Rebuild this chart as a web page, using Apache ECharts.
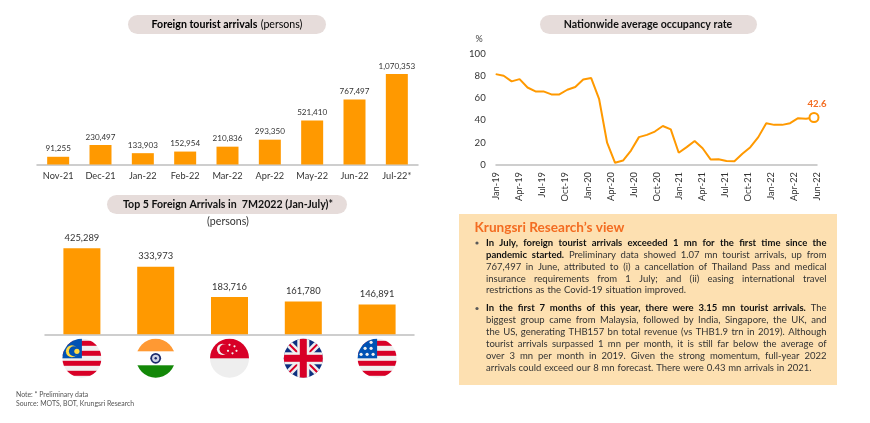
<!DOCTYPE html>
<html><head><meta charset="utf-8">
<script src="https://cdn.jsdelivr.net/npm/echarts@6/dist/echarts.min.js"></script>
<style>html,body{margin:0;padding:0;background:#fff}#c{width:870px;height:423px}</style>
</head><body><div id="c"></div>
<script>
const FONT = 'Lato, "Open Sans", sans-serif';
// Chart 1
const arrivalMonths = ['Nov-21','Dec-21','Jan-22','Feb-22','Mar-22','Apr-22','May-22','Jun-22','Jul-22*'];
const arrivalValues = [91255,230497,133903,152954,210836,293350,521410,767497,1070353];
// Chart 2
const topCountries = ['Malaysia','India','Singapore','UK','US'];
const topValues = [425289,333973,183716,161780,146891];
// Chart 3
const occupancyTickLabels = ['Jan-19','Apr-19','Jul-19','Oct-19','Jan-20','Apr-20','Jul-20','Oct-20','Jan-21','Apr-21','Jul-21','Oct-21','Jan-22','Apr-22','Jun-22'];
const occupancyValues = [81.5,80,75,77,69.5,66,66,63.3,63.3,67.5,70,76.7,78,59,20,2,4,13,25,27,30,35,32,11,16,21.5,15,5,5.2,3.5,3.3,10,16,25,37.5,36,36,37.5,42,41.5,42.6];
// Text panel: [bold part, regular part, justified?]
const viewHeading = 'Krungsri Research\u2019s view';
const viewPara1 = [
 ['In July, foreign tourist arrivals exceeded 1 mn for the first time since the','',true],
 ['pandemic started.','Preliminary data showed 1.07 mn tourist arrivals, up from',true],
 ['','767,497 in June, attributed to (i) a cancellation of Thailand Pass and medical',true],
 ['','insurance requirements from 1 July; and (ii) easing international travel',true],
 ['','restrictions as the Covid-19 situation improved.',false]];
const viewPara2 = [
 ['In the first 7 months of this year, there were 3.15 mn tourist arrivals.','The',true],
 ['','biggest group came from Malaysia, followed by India, Singapore, the UK, and',true],
 ['','the US, generating THB157 bn total revenue (vs THB1.9 trn in 2019). Although',true],
 ['','tourist arrivals surpassed 1 mn per month, it is still far below the average of',true],
 ['','over 3 mn per month in 2019. Given the strong momentum, full-year 2022',true],
 ['','arrivals could exceed our 8 mn forecast. There were 0.43 mn arrivals in 2021.',false]];
const noteLines = ['Note: * Preliminary data','Source: MOTS, BOT, Krungsri Research'];

const svgUri = s => 'data:image/svg+xml;charset=utf-8,' + encodeURIComponent(
 '<svg xmlns="http://www.w3.org/2000/svg" width="40" height="40" viewBox="0 0 40 40"><defs><clipPath id="k"><circle cx="20" cy="20" r="19.5"/></clipPath></defs><g clip-path="url(#k)">' + s + '</g></svg>');
const stripes = () => {let o='<rect width="40" height="40" fill="#f0f0f0"/>';for(let i=0;i<4;i++)o+=`<rect y="${2.5+i*10}" width="40" height="5" fill="#d80027"/>`;return o;};
const star = (x,y,r,c)=>`<circle cx="${x}" cy="${y}" r="${r}" fill="${c}"/>`;
const flags = {
 Malaysia: svgUri(stripes()+'<rect width="20" height="20" fill="#0052b4"/><circle cx="10" cy="13" r="6" fill="#ffda44"/><circle cx="12" cy="13" r="5" fill="#0052b4"/><circle cx="15" cy="13" r="2.6" fill="#ffda44"/>'),
 India: svgUri('<rect width="40" height="40" fill="#fff"/><rect width="40" height="13" fill="#ff9933"/><rect y="27" width="40" height="13" fill="#138808"/><circle cx="20" cy="20" r="5.4" fill="#1a2a6c"/><circle cx="20" cy="20" r="3.6" fill="#cfd3e6"/><circle cx="20" cy="20" r="1.2" fill="#1a2a6c"/>'),
 Singapore: svgUri('<rect width="40" height="40" fill="#eeeeee"/><rect width="40" height="20" fill="#d80027"/><circle cx="13" cy="11" r="5.6" fill="#f0f0f0"/><circle cx="15" cy="11" r="5" fill="#d80027"/>'+[[20,6.5],[25,8],[27,12.5],[18.5,12.5],[23,15]].map(p=>star(p[0],p[1],1.1,'#f0f0f0')).join('')),
 UK: svgUri('<rect width="40" height="40" fill="#0d2f7f"/><path d="M0 0L40 40M40 0L0 40" stroke="#f0f0f0" stroke-width="7"/><path d="M0 0L40 40M40 0L0 40" stroke="#d80027" stroke-width="2"/><rect x="14" width="12" height="40" fill="#f0f0f0"/><rect y="14" width="40" height="12" fill="#f0f0f0"/><rect x="16.5" width="7" height="40" fill="#d80027"/><rect y="16.5" width="40" height="7" fill="#d80027"/>'),
 US: svgUri(stripes()+'<rect width="20" height="20" fill="#0052b4"/>'+[[14,4],[8,10],[14,10],[4,16],[10,16],[16,16]].map(p=>star(p[0],p[1],1.6,'#f0f0f0')).join(''))
};
const flagRich = {}; topCountries.forEach((c,i)=>{flagRich['f'+i]={width:40,height:40,backgroundColor:{image:flags[c]}};});

// Graphic helpers
const pill = (x,y,w,h) => ({type:'rect',shape:{x,y,width:w,height:h,r:h/2},style:{fill:'#E6DCDA'},silent:true,z:1});
const mctx = document.createElement('canvas').getContext('2d');
const fontOf = (b,s)=>`${b?'bold ':''}${s}px ${FONT}`;
const measure=(t,b,s)=>{mctx.font=fontOf(b,s);return mctx.measureText(t).width;};
const txt=(text,x,y,font,fill,align)=>({type:'text',silent:true,z:5,style:{text,x,y,font,fill,align:align||'left',verticalAlign:'middle'}});

const PANEL_L=486,PANEL_R=826.5,BODY=9.5,TITLE=10.6;
function layoutLine(line,y,endX){
 const words=[];
 line[0].split(' ').filter(Boolean).forEach(w=>words.push([w,true]));
 line[1].split(' ').filter(Boolean).forEach(w=>words.push([w,false]));
 const right=endX||PANEL_R;
 const total=words.reduce((a,w)=>a+measure(w[0],w[1],BODY),0);
 const gap=(right-PANEL_L-total)/(words.length-1);
 let x=PANEL_L;const out=[];
 words.forEach(w=>{out.push(txt(w[0],x,y,fontOf(w[1],BODY),w[1]?'#111111':'#333333'));x+=measure(w[0],w[1],BODY)+gap;});
 return out;
}
const graphics=[
 pill(128,15,198,19),pill(107,195,240,19),pill(540,15,217,19),
 {type:'rect',shape:{x:459,y:214,width:378,height:171},style:{fill:'#FDE0B1'},silent:true,z:1},
 {type:'text',silent:true,z:5,style:{text:'{b|Foreign tourist arrivals} {r|(persons)}',x:227,y:25,align:'center',verticalAlign:'middle',rich:{b:{font:fontOf(true,TITLE),color:'#111111'},r:{font:fontOf(false,TITLE),color:'#333333'}}}},
 txt('Top 5 Foreign Arrivals in  7M2022 (Jan-July)*',228,205,fontOf(true,TITLE),'#111111','center'),
 txt('(persons)',228,222,fontOf(false,TITLE),'#333333','center'),
 txt('Nationwide average occupancy rate',648,25,fontOf(true,TITLE),'#111111','center'),
 txt('%',479,39,fontOf(false,9),'#404040','center'),
 txt(noteLines[0],16,394.5,fontOf(false,6.9),'#555555'),
 txt(noteLines[1],16,403.5,fontOf(false,6.9),'#555555'),
 txt(viewHeading,474.5,227.5,fontOf(true,13.6),'#F36C21'),
 {type:'circle',shape:{cx:477,cy:243,r:1.6},style:{fill:'#595959'},silent:true,z:5},
 {type:'circle',shape:{cx:477,cy:308.5,r:1.6},style:{fill:'#595959'},silent:true,z:5}
];
const ys1=[242.7,254.7,266.7,278.5,290.2], ys2=[308,320,332,343.7,355.7,367.7];
viewPara1.forEach((l,i)=>graphics.push(...layoutLine(l,ys1[i],l[2]?PANEL_R:686)));
viewPara2.forEach((l,i)=>graphics.push(...layoutLine(l,ys2[i],l[2]?PANEL_R:811.5)));

const fmt=p=>Number(p.value).toLocaleString('en-US');
const axisLine={show:true,onZero:false,lineStyle:{color:'#BFBFBF',width:1.5}};
const grey='#333333';
const option={
 animation:false,backgroundColor:'#fff',textStyle:{fontFamily:FONT},
 graphic:graphics,
 grid:[
  {left:37,width:381,top:63,height:101.5},
  {left:45,width:369,top:233,height:101.3},
  {left:495.7,width:318.3,top:53.5,height:111.5},
  {left:496,width:321,top:53.5,height:111.5}
 ],
 xAxis:[
  {gridIndex:0,type:'category',data:arrivalMonths,axisLine,axisTick:{show:false},axisLabel:{color:grey,fontSize:9.2,margin:7,interval:0,fontFamily:FONT}},
  {gridIndex:1,type:'category',data:topCountries,axisLine,axisTick:{show:false},axisLabel:{margin:4,interval:0,formatter:(v,i)=>`{f${i}|}`,rich:flagRich}},
  {gridIndex:2,type:'category',boundaryGap:false,show:false,data:occupancyValues.map((_,i)=>String(i))},
  {gridIndex:3,type:'category',boundaryGap:false,data:occupancyTickLabels,axisLine,axisTick:{show:false},axisLabel:{color:grey,fontSize:9.3,rotate:90,margin:7,interval:0,fontFamily:FONT}}
 ],
 yAxis:[
  {gridIndex:0,type:'value',min:0,max:1200000,show:false},
  {gridIndex:1,type:'value',min:0,max:500000,show:false},
  {gridIndex:2,type:'value',min:0,max:100,interval:20,axisLine:{show:false},axisTick:{show:false},splitLine:{show:false},axisLabel:{color:grey,fontSize:9.6,margin:10,fontFamily:FONT}},
  {gridIndex:3,type:'value',min:0,max:100,show:false}
 ],
 series:[
  {type:'bar',xAxisIndex:0,yAxisIndex:0,data:arrivalValues,barWidth:22,itemStyle:{color:'#FF9900'},label:{show:true,position:'top',distance:4,color:grey,fontSize:8.1,formatter:fmt,fontFamily:FONT}},
  {type:'bar',xAxisIndex:1,yAxisIndex:1,data:topValues,barWidth:37,itemStyle:{color:'#FF9900'},label:{show:true,position:'top',distance:6,color:grey,fontSize:9.4,formatter:fmt,fontFamily:FONT}},
  {type:'line',xAxisIndex:2,yAxisIndex:2,showSymbol:true,showAllSymbol:true,symbol:'none',smooth:false,lineStyle:{color:'#FF9900',width:2},
   data:occupancyValues.map((v,i)=>i===occupancyValues.length-1?{value:v,symbol:'circle',symbolSize:9,itemStyle:{color:'#fff',borderColor:'#FF9900',borderWidth:2},label:{show:true,position:'top',distance:3,offset:[3,0],color:'#F36C21',fontWeight:'bold',fontSize:9.6,fontFamily:FONT,formatter:'{c}'}}:v)}
 ]
};
const chart=echarts.init(document.getElementById('c'),null,{renderer:'canvas'});
chart.setOption(option);
</script></body></html>
